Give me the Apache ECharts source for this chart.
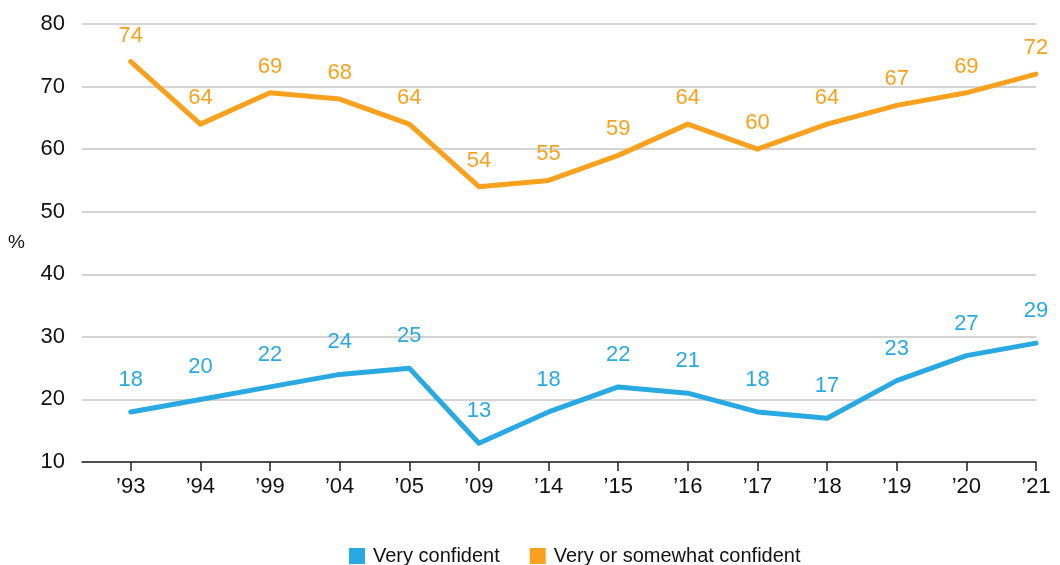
<!DOCTYPE html>
<html>
<head>
<meta charset="utf-8">
<script src="https://cdn.jsdelivr.net/npm/echarts@6/dist/echarts.min.js"></script>
<style>
  html, body { margin: 0; padding: 0; background: #fff; }
  #chart { width: 1060px; height: 565px; }
</style>
</head>
<body>
<div id="chart"></div>
<script>
const years = ['\u201993', '\u201994', '\u201999', '\u201904', '\u201905', '\u201909', '\u201914',
  '\u201915', '\u201916', '\u201917', '\u201918', '\u201919', '\u201920', '\u201921']
const veryConfident = [18, 20, 22, 24, 25, 13, 18, 22, 21, 18, 17, 23, 27, 29]
const somewhatConfident = [74, 64, 69, 68, 64, 54, 55, 59, 64, 60, 64, 67, 69, 72]
const yTicks = [10, 20, 30, 40, 50, 60, 70, 80]

const BLUE = '#29a9e1'
const ORANGE = '#f7a11e'
const FONT = '"Liberation Sans", Arial, sans-serif'
const idx = years.map((_, i) => i)

const chart = echarts.init(document.getElementById('chart'))

function lineSeries(name, values, color, dist) {
  return {
    name,
    type: 'line',
    data: values.map((v, i) => [i, v]),
    symbol: 'circle',
    symbolSize: 2,
    showSymbol: true,
    showAllSymbol: true,
    itemStyle: { color },
    color,
    lineStyle: { width: 5, color, cap: 'round', join: 'round' },
    label: {
      show: true,
      position: 'top',
      distance: dist,
      fontSize: 22,
      color,
      fontFamily: FONT,
      formatter: (p) => String(p.value[1])
    },
    labelLayout: { hideOverlap: false }
  }
}

chart.setOption({
  animation: false,
  textStyle: { fontFamily: FONT },
  grid: { left: 82, right: 24, top: 24, bottom: 103 },
  legend: {
    top: 541,
    left: 344,
    itemWidth: 16,
    itemHeight: 16,
    itemGap: 30,
    icon: 'rect',
    textStyle: { fontSize: 20, color: '#111', fontFamily: FONT, padding: [0, 0, 0, 3] },
    data: ['Very confident', 'Very or somewhat confident']
  },
  xAxis: {
    type: 'value',
    min: -0.7,
    max: 13,
    splitLine: { show: false },
    axisLine: { show: true, lineStyle: { color: '#222', width: 1.5 } },
    axisTick: { show: true, length: 9, customValues: idx, lineStyle: { color: '#222', width: 1.5 } },
    axisLabel: {
      customValues: idx,
      margin: 14,
      fontSize: 22,
      color: '#111',
      fontFamily: FONT,
      formatter: (v) => years[Math.round(v)]
    }
  },
  yAxis: {
    type: 'value',
    min: yTicks[0],
    max: yTicks[yTicks.length - 1],
    interval: 10,
    name: '%',
    nameLocation: 'middle',
    nameRotate: 0,
    nameGap: 57,
    nameTextStyle: { fontSize: 19, color: '#111', fontFamily: FONT },
    axisLine: { show: false },
    axisTick: { show: false },
    axisLabel: { margin: 17, fontSize: 22, color: '#111', fontFamily: FONT },
    splitLine: {
      lineStyle: { color: '#c4c4c4', width: 1.5 }
    }
  },
  series: [
    lineSeries('Very confident', veryConfident, BLUE, 20),
    lineSeries('Very or somewhat confident', somewhatConfident, ORANGE, 14)
  ]
})
</script>
</body>
</html>
